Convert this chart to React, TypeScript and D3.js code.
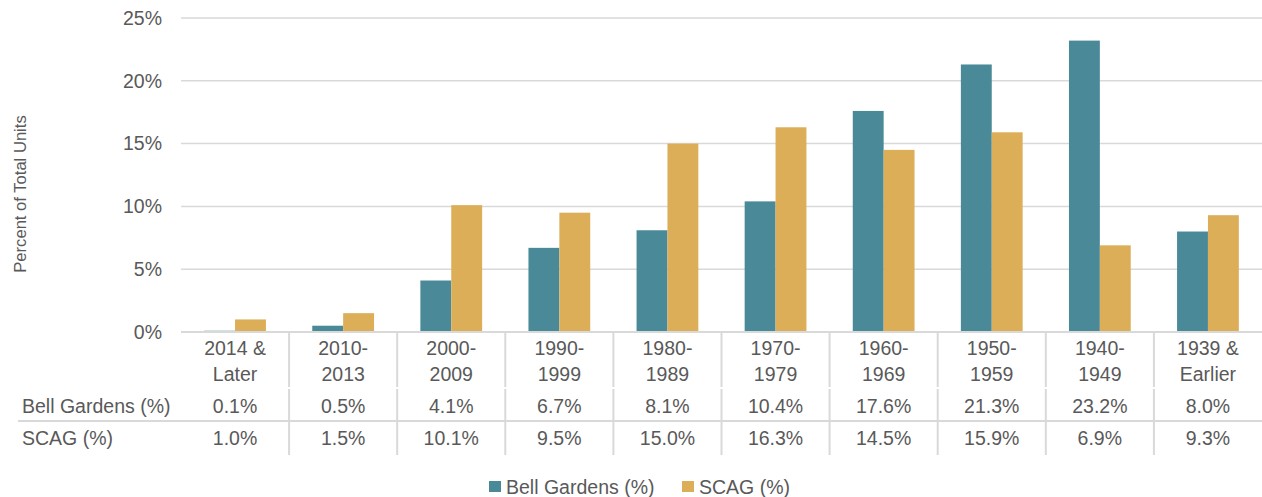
import * as d3 from "d3";

const categories = [
  ["2014 &", "Later"],
  ["2010-", "2013"],
  ["2000-", "2009"],
  ["1990-", "1999"],
  ["1980-", "1989"],
  ["1970-", "1979"],
  ["1960-", "1969"],
  ["1950-", "1959"],
  ["1940-", "1949"],
  ["1939 &", "Earlier"],
];
const bellGardens = [0.1, 0.5, 4.1, 6.7, 8.1, 10.4, 17.6, 21.3, 23.2, 8.0];
const scag = [1.0, 1.5, 10.1, 9.5, 15.0, 16.3, 14.5, 15.9, 6.9, 9.3];
const seriesNames = ["Bell Gardens (%)", "SCAG (%)"];
const yTicks = [0, 5, 10, 15, 20, 25];

const colors = ["#4a8a98", "#dcae58"];
const textColor = "#595959";
const gridColor = "#d9d9d9";
const font = "'Liberation Sans', Arial, sans-serif";
const fs = 19.5;

const W = 1262, H = 497;
const left = 181, right = 1262, top = 18, bottom = 332;

export default function App() {
  const keys = categories.map((_, i) => String(i));
  const x = d3.scaleBand().domain(keys).range([left, right]).paddingInner(0).paddingOuter(0);
  const inner = d3.scaleBand().domain(["0", "1"]).range([0, x.bandwidth()]).paddingOuter(0.75).paddingInner(0);
  const y = d3.scaleLinear().domain([0, 25]).range([bottom, top]);
  const values = [bellGardens, scag];

  return (
    <div>
      <style>{"body{margin:0}"}</style>
      <svg width={W} height={H} style={{ display: "block", fontFamily: font }}>
        {/* grid */}
        {yTicks.map((t) => (
          <g key={t}>
            <line x1={left} x2={right} y1={y(t)} y2={y(t)} stroke={gridColor} strokeWidth={1.5} />
            <text x={162} y={y(t)} dy="0.35em" textAnchor="end" fontSize={fs} fill={textColor}>
              {t}%
            </text>
          </g>
        ))}
        <text
          transform={`translate(20,194) rotate(-90)`}
          dy="0.35em"
          textAnchor="middle"
          fontSize={16.6}
          fill={textColor}
        >
          Percent of Total Units
        </text>

        {/* bars */}
        {values.map((vals, s) => (
          <g key={s} fill={colors[s]}>
            {vals.map((v, i) => (
              <rect
                key={i}
                x={(x(String(i)) as number) + (inner(String(s)) as number)}
                y={y(v)}
                width={inner.bandwidth()}
                height={bottom - y(v)}
              />
            ))}
          </g>
        ))}
        <line x1={left} x2={right} y1={bottom} y2={bottom} stroke={gridColor} strokeWidth={2} />

        {/* data table */}
        {keys.slice(1).map((k) => (
          <g key={k}>
            <line x1={x(k)} x2={x(k)} y1={bottom} y2={387} stroke={gridColor} strokeWidth={2} />
            <line x1={x(k)} x2={x(k)} y1={389} y2={455} stroke={gridColor} strokeWidth={2} />
          </g>
        ))}
        <line x1={18} x2={right} y1={421} y2={421} stroke={gridColor} strokeWidth={2} />
        {categories.map((c, i) => {
          const cx = (x(String(i)) as number) + x.bandwidth() / 2;
          return (
            <g key={i} fontSize={fs} fill={textColor} textAnchor="middle">
              <text x={cx} y={348} dy="0.35em">{c[0]}</text>
              <text x={cx} y={374} dy="0.35em">{c[1]}</text>
              <text x={cx} y={406} dy="0.35em">{bellGardens[i].toFixed(1)}%</text>
              <text x={cx} y={438} dy="0.35em">{scag[i].toFixed(1)}%</text>
            </g>
          );
        })}
        <text x={22} y={406} dy="0.35em" fontSize={fs} fill={textColor}>{seriesNames[0]}</text>
        <text x={22} y={438} dy="0.35em" fontSize={fs} fill={textColor}>{seriesNames[1]}</text>

        {/* legend */}
        {seriesNames.map((n, i) => {
          const lx = [489, 682][i];
          return (
            <g key={n}>
              <rect x={lx} y={481} width={12} height={11} fill={colors[i]} />
              <text x={lx + 17} y={487} dy="0.35em" fontSize={fs} fill={textColor}>{n}</text>
            </g>
          );
        })}
      </svg>
    </div>
  );
}
